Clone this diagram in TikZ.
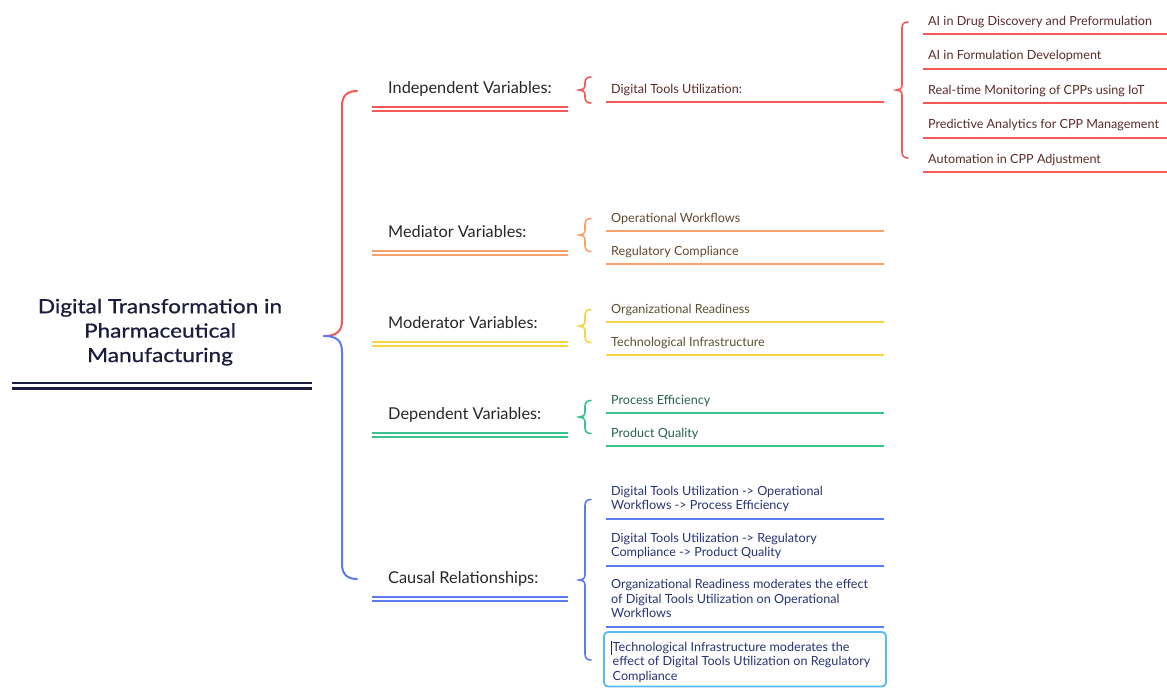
\documentclass[tikz,border=0pt]{standalone}
\usepackage{fontspec}
\setmainfont{Lato}
\newfontfamily\rootfont[FakeStretch=1.16, FakeBold=0.8]{Lato}
\definecolor{cred}{RGB}{246,88,88}
\definecolor{corange}{RGB}{247,162,108}
\definecolor{cyellow}{RGB}{246,212,70}
\definecolor{cgreen}{RGB}{58,194,140}
\definecolor{cblue}{RGB}{92,122,244}
\definecolor{ccyan}{RGB}{86,188,240}
\definecolor{navy}{RGB}{26,29,62}
\definecolor{tred}{RGB}{92,42,42}
\definecolor{torange}{RGB}{102,72,46}
\definecolor{tyellow}{RGB}{88,82,52}
\definecolor{tgreen}{RGB}{38,98,78}
\definecolor{tblue}{RGB}{40,50,118}
\definecolor{tbranch}{RGB}{38,38,42}
\tikzset{
  rootlabel/.style={anchor=base, inner sep=0pt, align=center, text=navy,
    font=\rootfont\fontsize{19.5}{24.4}\selectfont},
  branchlabel/.style={anchor=base west, inner sep=0pt, text=tbranch,
    font=\fontsize{16.3}{19}\selectfont},
  leaflabel/.style={anchor=base west, inner sep=0pt, align=left,
    font=\fontsize{12.6}{14.5}\selectfont},
  uline/.style={line width=2pt},
  bline/.style={line width=1.8pt},
  bracepath/.style={line width=1.6pt, line cap=round}
}
% curly brace opening to the right: colour, tip x, top y, tip y, bottom y
\newcommand\drawbrace[5]{%
  \draw[bracepath, #1]
    ({#2+12},{#3}) .. controls ({#2+8},{#3}) and ({#2+6},{#3+2}) .. ({#2+6},{#3+6})
    -- ({#2+6},{#4-5}) .. controls ({#2+6},{#4-1}) and ({#2+3},{#4}) .. ({#2},{#4})
    .. controls ({#2+3},{#4}) and ({#2+6},{#4+1}) .. ({#2+6},{#4+5})
    -- ({#2+6},{#5-6}) .. controls ({#2+6},{#5-2}) and ({#2+8},{#5}) .. ({#2+12},{#5});}
% double rule under a branch label
\newcommand\branchrule[2]{%
  \draw[bline, #1] (372,{#2}) -- (568,{#2});
  \draw[bline, #1] (372,{#2+4.4}) -- (568,{#2+4.4});}
\begin{document}
\begin{tikzpicture}[x=1pt, y=-1pt]
\useasboundingbox (0,0) rectangle (1167,688);

% root topic (multi-line nodes sit on the baseline of their last line)
\node[rootlabel] (root) at (160,362)
  {Digital Transformation in\\Pharmaceutical\\Manufacturing};
\draw[line width=2.3pt, navy] (12,383.3) -- (312,383.3);
\draw[line width=2.3pt, navy] (12,388.4) -- (312,388.4);
\coordinate (rootTip) at (324,336);

% main brace
\draw[line width=2pt, cred, line cap=round] (rootTip)
  .. controls (337,336) and (342,331) .. (342,320) -- (342,106)
  .. controls (342,96) and (347,91) .. (357,91);
\draw[line width=2pt, cblue, line cap=round] (rootTip)
  .. controls (337,336) and (342,341) .. (342,352) -- (342,564)
  .. controls (342,574) and (347,579) .. (357,579);

% branch labels
\node[branchlabel] (indep) at (388,93.3) {Independent Variables:};
\branchrule{cred}{106.7}
\node[branchlabel] (medi) at (388,237.5) {Mediator Variables:};
\branchrule{corange}{250.6}
\node[branchlabel] (moder) at (388,328.5) {Moderator Variables:};
\branchrule{cyellow}{341.6}
\node[branchlabel] (dep) at (388,419.5) {Dependent Variables:};
\branchrule{cgreen}{432.6}
\node[branchlabel] (causal) at (388,583) {Causal Relationships:};
\branchrule{cblue}{596.8}

% independent variables
\drawbrace{cred}{579}{77}{90}{103}
\node[leaflabel, text=tred] (dtu) at (611,93.5) {Digital Tools Utilization:};
\draw[uline, cred] (606,102) -- (884,102);
\drawbrace{cred}{896}{22}{90}{158}
\node[leaflabel, text=tred] (ai1) at (928,25) {AI in Drug Discovery and Preformulation};
\draw[uline, cred] (923,33.5) -- (1167,33.5);
\node[leaflabel, text=tred] (ai2) at (928,59.5) {AI in Formulation Development};
\draw[uline, cred] (923,68.5) -- (1167,68.5);
\node[leaflabel, text=tred] (ai3) at (928,94) {Real-time Monitoring of CPPs using IoT};
\draw[uline, cred] (923,103) -- (1167,103);
\node[leaflabel, text=tred] (ai4) at (928,128.5) {Predictive Analytics for CPP Management};
\draw[uline, cred] (923,137.5) -- (1167,137.5);
\node[leaflabel, text=tred] (ai5) at (928,163) {Automation in CPP Adjustment};
\draw[uline, cred] (923,172) -- (1167,172);

% mediator variables
\drawbrace{corange}{579}{218.5}{235}{251.5}
\node[leaflabel, text=torange] (ow) at (611,222.5) {Operational Workflows};
\draw[uline, corange] (606,231) -- (884,231);
\node[leaflabel, text=torange] (rc) at (611,255) {Regulatory Compliance};
\draw[uline, corange] (606,263.5) -- (884,263.5);

% moderator variables
\drawbrace{cyellow}{579}{309.5}{326}{342.5}
\node[leaflabel, text=tyellow] (orr) at (611,313.5) {Organizational Readiness};
\draw[uline, cyellow] (606,322) -- (884,322);
\node[leaflabel, text=tyellow] (ti) at (611,346) {Technological Infrastructure};
\draw[uline, cyellow] (606,354.5) -- (884,354.5);

% dependent variables
\drawbrace{cgreen}{579}{400.5}{417}{433.5}
\node[leaflabel, text=tgreen] (pe) at (611,404.5) {Process Efficiency};
\draw[uline, cgreen] (606,413) -- (884,413);
\node[leaflabel, text=tgreen] (pq) at (611,437) {Product Quality};
\draw[uline, cgreen] (606,445.5) -- (884,445.5);

% causal relationships
\drawbrace{cblue}{579}{499.5}{580}{660}
\node[leaflabel, text=tblue] (c1) at (611,509.5)
  {Digital Tools Utilization -> Operational\\Workflows -> Process Efficiency};
\draw[uline, cblue] (606,519) -- (884,519);
\node[leaflabel, text=tblue] (c2) at (611,556.5)
  {Digital Tools Utilization -> Regulatory\\Compliance -> Product Quality};
\draw[uline, cblue] (606,566) -- (884,566);
\node[leaflabel, text=tblue] (c3) at (611,617.5)
  {Organizational Readiness moderates the effect\\of Digital Tools Utilization on Operational\\Workflows};
\draw[uline, cblue] (606,627.3) -- (884,627.3);
\draw[line width=1.8pt, ccyan, rounded corners=4pt] (604,632) rectangle (886,686.5);
\node[leaflabel, text=tblue] (c4) at (612.5,680)
  {Technological Infrastructure moderates the\\effect of Digital Tools Utilization on Regulatory\\Compliance};
\draw[line width=0.6pt, tbranch] (611.3,641) -- (611.3,655);
\end{tikzpicture}
\end{document}
